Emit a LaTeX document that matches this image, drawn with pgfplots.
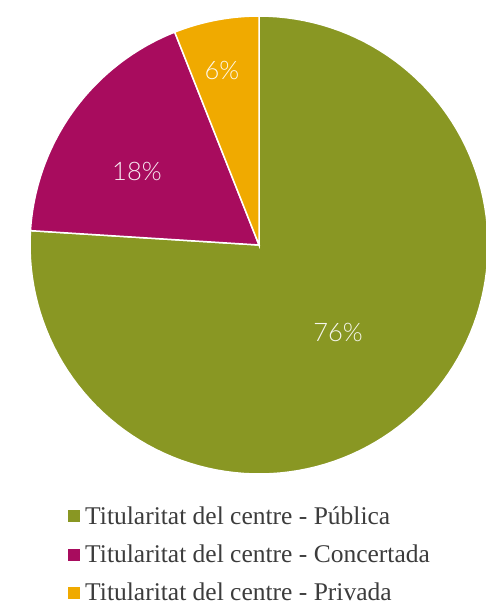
\documentclass[border=0pt]{standalone}
\usepackage{fontspec}
\setmainfont{Liberation Serif}
\newfontfamily\lato{Lato}[UprightFont={* Light}]
\usepackage{pgfplots}
\pgfplotsset{compat=1.18}
\definecolor{cPub}{RGB}{137,151,35}
\definecolor{cCon}{RGB}{168,12,94}
\definecolor{cPri}{RGB}{240,170,0}
\definecolor{cTxt}{RGB}{60,60,60}
% shares (%)
\def\vPub{76}
\def\vCon{18}
\def\vPri{6}
\pgfmathsetmacro{\aA}{90}
\pgfmathsetmacro{\aB}{\aA-3.6*\vPub}
\pgfmathsetmacro{\aC}{\aB-3.6*\vCon}
\pgfmathsetmacro{\aD}{\aC-3.6*\vPri}
\begin{document}
\begin{tikzpicture}
\path[use as bounding box] (0,0) rectangle (486pt,605pt);
\begin{axis}[
  at={(0,0)}, anchor=south west,
  scale only axis, width=486pt, height=605pt,
  xmin=-1.131, xmax=0.991, ymin=-1.572, ymax=1.070,
  hide axis, clip=false,
  legend style={at={(0.14,0.166)}, anchor=north west, draw=none, fill=none,
    font=\fontsize{25.5}{25.5}\selectfont\color{cTxt}, row sep=15pt,
    inner sep=0pt, cells={anchor=west}},
  legend image code/.code={\fill[#1,draw=none] (0pt,-6pt) rectangle (12pt,6pt);},
]
\addplot[fill=cPub, draw=white, line width=1.5pt, domain=\aB:\aA, samples=120]
  ({cos(x)},{sin(x)}) -- (0,0) -- cycle;
\addlegendentry{\hspace{3pt}Titularitat del centre - Pública}
\addplot[fill=cCon, draw=white, line width=1.5pt, domain=\aC:\aB, samples=60]
  ({cos(x)},{sin(x)}) -- (0,0) -- cycle;
\addlegendentry{\hspace{3pt}Titularitat del centre - Concertada}
\addplot[fill=cPri, draw=white, line width=1.5pt, domain=\aD:\aC, samples=30]
  ({cos(x)},{sin(x)}) -- (0,0) -- cycle;
\addlegendentry{\hspace{3pt}Titularitat del centre - Privada}
\node[text=white, opacity=0.92, font=\lato\fontsize{25.5}{25.5}\selectfont] at (0.345,-0.384) {76\%};
\node[text=white, opacity=0.92, font=\lato\fontsize{25.5}{25.5}\selectfont] at (-0.533,0.319) {18\%};
\node[text=white, opacity=0.92, font=\lato\fontsize{25.5}{25.5}\selectfont] at (-0.162,0.764) {6\%};
\end{axis}
\end{tikzpicture}
\end{document}
